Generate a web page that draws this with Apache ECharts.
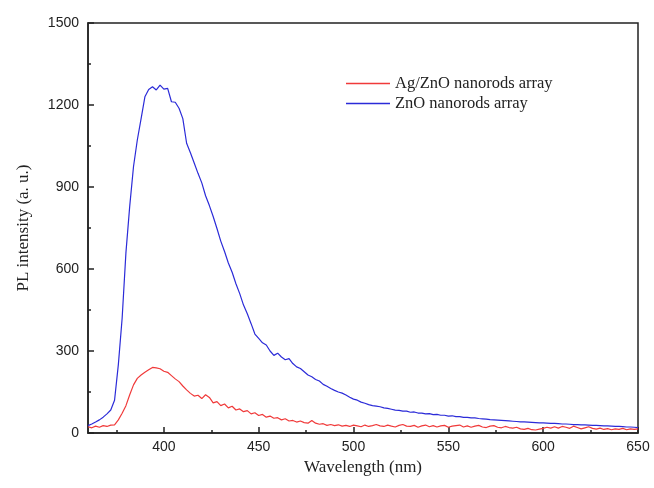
<!DOCTYPE html>
<html>
<head>
<meta charset="utf-8">
<script src="https://cdn.jsdelivr.net/npm/echarts@6/dist/echarts.min.js"></script>
<style>
  html, body { margin: 0; padding: 0; background: #fff; }
  #chart { width: 654px; height: 488px; }
</style>
</head>
<body>
<div id="chart"></div>
<script>
// wavelength (nm), 2 nm step
var wavelengths = [
  360,362,364,366,368,370,372,374,376,378,380,382,384,386,388,390,392,394,396,398,
  400,402,404,406,408,410,412,414,416,418,420,422,424,426,428,430,432,434,436,438,
  440,442,444,446,448,450,452,454,456,458,460,462,464,466,468,470,472,474,476,478,
  480,482,484,486,488,490,492,494,496,498,500,502,504,506,508,510,512,514,516,518,
  520,522,524,526,528,530,532,534,536,538,540,542,544,546,548,550,552,554,556,558,
  560,562,564,566,568,570,572,574,576,578,580,582,584,586,588,590,592,594,596,598,
  600,602,604,606,608,610,612,614,616,618,620,622,624,626,628,630,632,634,636,638,
  640,642,644,646,648,650
];

// Ag/ZnO nanorods array
var agZnO = [
  23,19,25,21,27,24,29,30,48,72,100,140,176,200,212,222,231,240,238,235,
  226,222,210,198,188,172,158,145,135,138,126,140,130,110,115,100,106,92,98,84,
  88,78,82,70,74,64,68,58,62,54,56,48,52,44,46,40,44,38,36,46,
  36,32,34,28,31,27,30,25,28,24,29,26,23,29,24,27,31,26,24,29,
  25,22,28,31,25,24,28,21,26,29,23,27,22,26,28,21,25,27,29,22,
  26,21,25,28,22,20,25,27,21,19,24,20,18,21,15,13,17,12,11,14,
  17,21,18,23,18,24,21,17,25,20,15,19,23,17,14,18,13,16,12,15,
  13,17,12,15,13,15
];

// ZnO nanorods array
var znO = [
  27,33,40,48,58,70,84,120,250,420,660,830,975,1072,1150,1230,1257,1267,1255,1273,
  1258,1261,1212,1210,1188,1150,1060,1025,988,950,915,868,832,792,748,702,664,622,588,546,
  510,468,436,400,362,346,330,322,300,284,292,278,268,272,254,242,236,224,212,206,
  196,190,178,171,163,156,150,146,139,131,124,120,113,109,104,100,98,96,92,90,
  87,84,83,80,80,76,77,73,73,70,71,67,68,65,65,62,63,60,60,57,
  57,55,55,53,52,51,49,48,47,46,45,44,43,42,41,41,40,39,38,37,
  37,36,35,35,34,33,33,32,31,31,30,30,29,28,28,27,26,26,25,24,
  24,23,22,22,21,20
];

var xMajorTicks = [400, 450, 500, 550, 600, 650];
var xMinorTicks = [375, 425, 475, 525, 575, 625];

var redColor = '#f03a3a';
var blueColor = '#2b2bd8';

function pairs(xs, ys) {
  var out = [];
  for (var i = 0; i < xs.length; i++) {
    out.push([xs[i], ys[i]]);
  }
  return out;
}

var chart = echarts.init(document.getElementById('chart'));

var axisColor = '#222';
var tickFont = 'Liberation Sans, Arial, sans-serif';
var titleFont = 'Liberation Serif, Times New Roman, serif';

var option = {
  animation: false,
  backgroundColor: '#fff',
  grid: {
    left: 88, right: 16, top: 23, bottom: 55,
    show: true, borderColor: axisColor, borderWidth: 1.5
  },
  legend: {
    left: 341, top: 70,
    orient: 'vertical',
    icon: 'rect',
    itemWidth: 44, itemHeight: 1.5, itemGap: 3,
    textStyle: { fontFamily: titleFont, fontSize: 16.5, color: '#222' },
    data: [
      { name: 'Ag/ZnO nanorods array', itemStyle: { color: redColor } },
      { name: 'ZnO nanorods array', itemStyle: { color: blueColor } }
    ]
  },
  xAxis: [
    {
      type: 'value', min: 360, max: 650,
      name: 'Wavelength (nm)', nameLocation: 'middle', nameGap: 25,
      nameTextStyle: { fontFamily: titleFont, fontSize: 17, color: '#222' },
      axisLine: { show: true, lineStyle: { color: axisColor, width: 1.5 } },
      axisTick: { inside: true, length: 6, customValues: xMajorTicks, lineStyle: { color: axisColor, width: 1.5 } },
      axisLabel: { customValues: xMajorTicks, margin: 7, fontFamily: tickFont, fontSize: 14, color: '#222' },
      splitLine: { show: false }
    },
    {
      type: 'value', min: 360, max: 650, position: 'bottom',
      axisLine: { show: false },
      axisTick: { inside: true, length: 3, customValues: xMinorTicks, lineStyle: { color: axisColor, width: 1.5 } },
      axisLabel: { show: false },
      splitLine: { show: false }
    }
  ],
  yAxis: {
    type: 'value', min: 0, max: 1500, interval: 300,
    name: 'PL intensity (a. u.)', nameLocation: 'middle', nameGap: 56,
    nameTextStyle: { fontFamily: titleFont, fontSize: 17, color: '#222' },
    axisLine: { show: true, lineStyle: { color: axisColor, width: 1.5 } },
    axisTick: { inside: true, length: 6, lineStyle: { color: axisColor, width: 1.5 } },
    minorTick: { show: true, splitNumber: 2, length: 3, lineStyle: { color: axisColor, width: 1.5 } },
    axisLabel: {
      margin: 9, fontFamily: tickFont, fontSize: 14, color: '#222',
      formatter: function (v) { return String(v); }
    },
    splitLine: { show: false },
    minorSplitLine: { show: false }
  },
  series: [
    {
      name: 'Ag/ZnO nanorods array', type: 'line', symbol: 'none',
      data: pairs(wavelengths, agZnO),
      lineStyle: { color: redColor, width: 1.2 },
      itemStyle: { color: redColor }
    },
    {
      name: 'ZnO nanorods array', type: 'line', symbol: 'none',
      data: pairs(wavelengths, znO),
      lineStyle: { color: blueColor, width: 1.2 },
      itemStyle: { color: blueColor }
    }
  ]
};

chart.setOption(option);
</script>
</body>
</html>
